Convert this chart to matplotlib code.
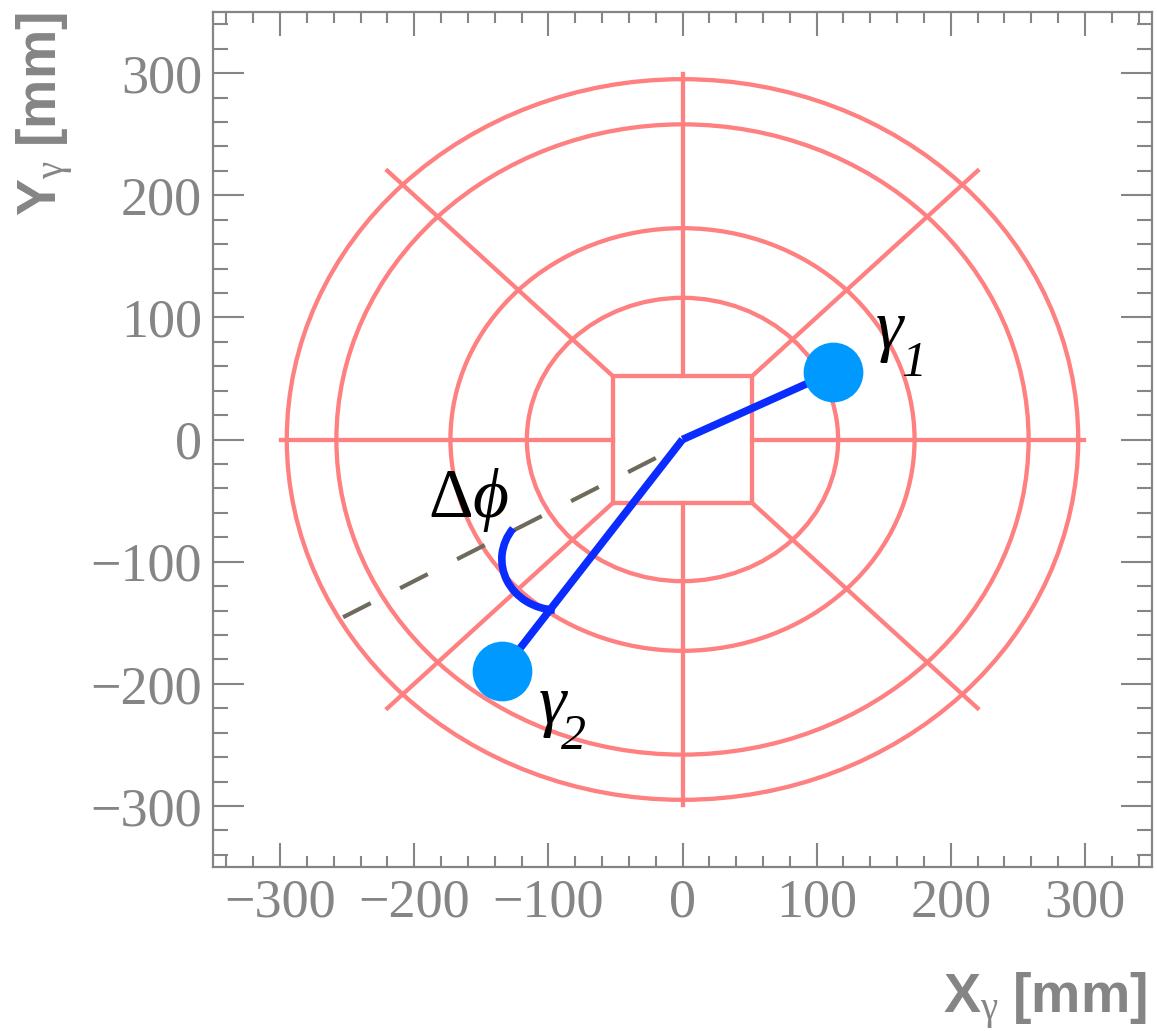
import numpy as np
import matplotlib
matplotlib.use("Agg")
import matplotlib.pyplot as plt
from matplotlib.patches import Circle, Arc
from matplotlib.ticker import MultipleLocator

plt.rcParams['mathtext.fontset'] = 'custom'
plt.rcParams['mathtext.rm'] = 'Liberation Serif'
plt.rcParams['mathtext.it'] = 'Liberation Serif:italic'
plt.rcParams['mathtext.bf'] = 'Liberation Sans:bold'

# ---- data ----
ring_radii = [116, 173, 258, 295]          # mm
square_half = 52                            # mm
cross_len = 299                             # mm
diag_end = 220                              # mm
gamma1 = (112.4, 55.4)                      # mm
gamma2 = (-134.4, -189.7)                   # mm
dash_start = (-253, -145.5)
dash_end = (0, -4)
arc_center = (-93, -98)
arc_radius = 41.7
arc_angles = (143, 267)
xticks = [-300, -200, -100, 0, 100, 200, 300]
yticks = [-300, -200, -100, 0, 100, 200, 300]
axis_lim = (-350, 350)

RED = '#ff8080'
GREY = '#858585'
BLUE_LINE = '#0a2cff'
BLUE_DOT = '#0099ff'

fig = plt.figure(figsize=(11.57, 10.31), dpi=100)
ax = fig.add_axes([213/1157, 1-867/1031, (1152-213)/1157, (867-12)/1031])
ax.set_xlim(*axis_lim)
ax.set_ylim(*axis_lim)

rlw = 3.1
# rings
for r in ring_radii:
    ax.add_patch(Circle((0, 0), r, fill=False, ec=RED, lw=rlw, zorder=2))
# square
s = square_half
ax.plot([-s, s, s, -s, -s], [-s, -s, s, s, -s], color=RED, lw=rlw, zorder=2)
# cross lines (outside square)
ax.plot([-cross_len, -s], [0, 0], color=RED, lw=rlw, zorder=2)
ax.plot([s, cross_len], [0, 0], color=RED, lw=rlw, zorder=2)
ax.plot([0, 0], [s, cross_len], color=RED, lw=rlw, zorder=2)
ax.plot([0, 0], [-s, -cross_len], color=RED, lw=rlw, zorder=2)
# diagonals
for sx in (-1, 1):
    for sy in (-1, 1):
        ax.plot([sx*s, sx*diag_end], [sy*s, sy*diag_end], color=RED, lw=rlw, zorder=2)

# dashed extension (drawn from the outer end inward)
ax.plot([dash_start[0], dash_end[0]], [dash_start[1], dash_end[1]],
        color='#6e6a5c', lw=3.0, dashes=(7.45, 7.9), dash_capstyle='butt', zorder=3)

# photon lines
blw = 5.5
ax.plot([0, gamma1[0]], [0, gamma1[1]], color=BLUE_LINE, lw=blw,
        solid_capstyle='butt', zorder=4)
ax.plot([0, gamma2[0]], [0, gamma2[1]], color=BLUE_LINE, lw=blw,
        solid_capstyle='butt', zorder=4)
ax.add_patch(Arc(arc_center, 2*arc_radius, 2*arc_radius, theta1=arc_angles[0],
                 theta2=arc_angles[1], color=BLUE_LINE, lw=blw, zorder=4))

# photon dots
ax.plot([gamma1[0], gamma2[0]], [gamma1[1], gamma2[1]], 'o', color=BLUE_DOT,
        ms=43, mec='none', zorder=5)

# labels
serif_it = dict(family='Liberation Serif', style='italic', color='black', zorder=6,
                ha='left', va='baseline')
ax.text(144, 75, '\u03b3', fontsize=50, **serif_it)
ax.text(163, 52, '1', fontsize=36, **serif_it)
ax.text(-107.5, -232, '\u03b3', fontsize=50, **serif_it)
ax.text(-90.5, -253, '2', fontsize=36, **serif_it)
ax.text(-189.7, -63.5, r'$\mathrm{\Delta}\phi$', fontsize=50, ha='left', va='baseline', zorder=6)

# axes styling
for sp in ax.spines.values():
    sp.set_color(GREY)
    sp.set_linewidth(1.6)
ax.set_xticks(xticks)
ax.set_yticks(yticks)
ax.set_xticklabels([str(v).replace('-', '\u2212') for v in xticks], fontfamily='Liberation Serif')
ax.set_yticklabels([str(v).replace('-', '\u2212') for v in yticks], fontfamily='Liberation Serif')
ax.xaxis.set_minor_locator(MultipleLocator(20))
ax.yaxis.set_minor_locator(MultipleLocator(20))
ax.tick_params(axis='x', which='major', direction='in', length=17, width=1.5,
               color=GREY, top=True, bottom=True, labelsize=39, labelcolor=GREY, pad=8)
ax.tick_params(axis='x', which='minor', direction='in', length=8, width=1.5,
               color=GREY, top=True, bottom=True)
ax.tick_params(axis='y', which='major', direction='in', length=22, width=1.5,
               color=GREY, left=True, right=True, labelsize=39, labelcolor=GREY, pad=8)
ax.tick_params(axis='y', which='minor', direction='in', length=11, width=1.5,
               color=GREY, left=True, right=True)

fig.text(1147/1157, 1-1013/1031, r'$\mathbf{X}_{\mathrm{\gamma}}\mathbf{\ [mm]}$',
         fontsize=40, color=GREY, ha='right', va='baseline')
fig.text(57/1157, 1-12/1031, r'$\mathbf{Y}_{\mathrm{\gamma}}\mathbf{\ [mm]}$',
         fontsize=40, color=GREY, ha='right', va='baseline', rotation=90,
         rotation_mode='anchor')

fig.savefig('out.png', dpi=100)
